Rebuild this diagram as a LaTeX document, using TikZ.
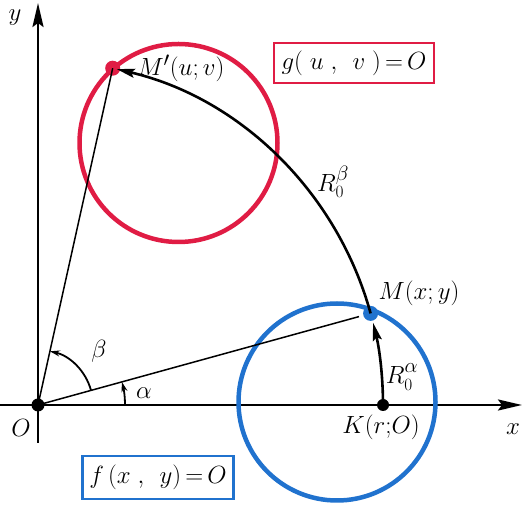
\documentclass[tikz,border=0pt]{standalone}
\usetikzlibrary{arrows.meta,calc}
\definecolor{cred}{RGB}{224,28,68}
\definecolor{cblue}{RGB}{32,114,206}
\begin{document}
\begin{tikzpicture}[x=1pt,y=1pt,
  axis/.style={line width=2.6pt,-{Stealth[length=24pt,width=11pt,inset=4pt]}},
  ray/.style={line width=1.5pt},
  rot/.style={line width=2.6pt,-{Stealth[length=18pt,width=9pt,inset=3pt]}},
  small/.style={line width=1.8pt,-{Stealth[length=10pt,width=6pt]}},
  lbl/.style={font=\Huge, inner sep=0pt},
  curve/.style={line width=4.5pt},
  dot/.style={circle, inner sep=0pt, minimum size=#1},
]
\useasboundingbox (0,0) rectangle (524,505);
% axes
\coordinate (xs) at (0,100);
\coordinate (xe) at (522,100);
\coordinate (ys) at (38,62);
\coordinate (ye) at (38,502);
\draw[axis] (xs) -- (xe);
\draw[axis] (ys) -- (ye);
% curves
\draw[curve, cred] (178.5,362) circle[radius=99];
\draw[curve, cblue] (337,103) circle[radius=98.5];
% points
\node[dot=13pt, fill=black] (O) at (38,100) {};
\node[dot=12pt, fill=black] (K) at (383,100) {};
\node[dot=15pt, fill=cblue] (M) at (370.6,191.6) {};
\node[dot=15pt, fill=cred] (Mp) at (112.7,436.8) {};
% rays
\draw[ray] (O.center) -- ($(O.center)!0.965!(M.center)$);
\draw[ray] (O.center) -- (Mp.center);
% rotation arc
\draw[rot] (M.center) arc[start angle=15.4, end angle=76.8, radius=345pt];
\draw[rot] (K.center) arc[start angle=0, end angle=13.8, radius=345pt];
% angle arcs
\coordinate (a0) at (125,100);
\draw[small] (a0) arc[start angle=0, end angle=15.4, radius=87pt];
\coordinate (b0) at ($(O.center)+(15.4:55)$);
\draw[small] (b0) arc[start angle=15.4, end angle=77.5, radius=55pt];
% labels
\node[lbl] (ylab) at (15,487) {$y$};
\node[lbl] (xlab) at (513,76) {$x$};
\node[lbl] (Olab) at (21,77) {$O$};
\node[lbl] (alab) at (144,112) {$\alpha$};
\node[lbl] (blab) at (99,154) {$\beta$};
\node[lbl] (Mlab) at (419,212) {$M(x;y)$};
\node[lbl] (Klab) at (381,78) {$K(r;\!O)$};
\node[lbl] (Mplab) at (181,437) {$M'(u;v)$};
\node[lbl] (Ralab) at (402,128) {$R_{\scriptscriptstyle 0}^{\raisebox{2pt}{$\scriptstyle\alpha$}}$};
\node[lbl] (Rblab) at (333,323) {$R_{\scriptscriptstyle 0}^{\raisebox{2pt}{$\scriptstyle\beta$}}$};
\node[lbl, draw=cred, line width=1.8pt, minimum width=160pt, minimum height=40pt] (gbox) at (354,442) {$g(\;u\;,\;\,v\;)\mkern-2mu=\mkern-2mu O$};
\node[lbl, draw=cblue, line width=2.2pt, minimum width=151pt, minimum height=43pt] (fbox) at (158,27.5) {$f\,(x\;,\;\,y)\mkern-2mu=\mkern-2mu O$};
\end{tikzpicture}
\end{document}
